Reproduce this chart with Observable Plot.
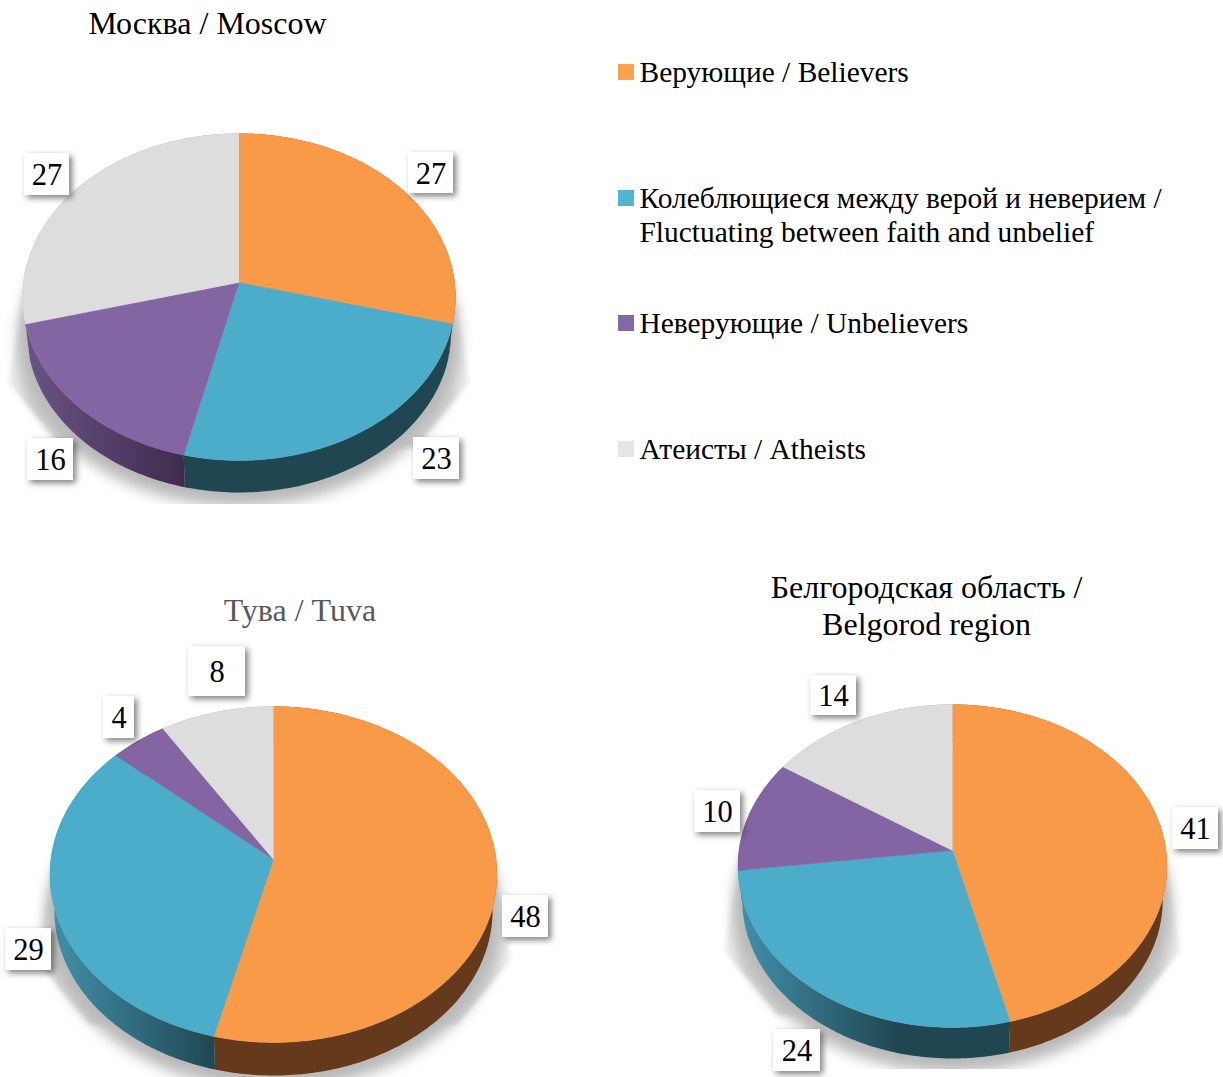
<!DOCTYPE html>
<html><head><meta charset="utf-8">
<script src="https://cdn.jsdelivr.net/npm/d3@7"></script>
<script src="https://cdn.jsdelivr.net/npm/@observablehq/plot@0.6"></script>
<style>html,body{margin:0;padding:0;background:#fff}svg{display:block}</style>
</head><body><div id="chart"></div>
<script>
const categories = ["Верующие / Believers", "Колеблющиеся между верой и неверием /\nFluctuating between faith and unbelief", "Неверующие / Unbelievers", "Атеисты / Atheists"];
const moscowValues = [27, 23, 16, 27];
const tuvaValues = [48, 29, 4, 8];
const belgorodValues = [41, 24, 10, 14];

const FONT = "Liberation Serif";
const faceColors = ["#F99A49", "#4BADC9", "#8465A4", "#DDDDDD"];
const legendColors = ["#FFA24F", "#50B5D2", "#8667A8", "#E6E6E6"];
const wallLight = ["#653A1C", "#4291AA", "#6A5488", "#AAAAAA"];
const wallDark = ["#653A1C", "#1F4651", "#3F2C4D", "#888888"];

const pies = [
  {id: "m", values: moscowValues, cx: 238.5, cy: 282, top: 149, bottom: 178, half: 216.5, depth: 32, cut: 504,
   boxes: [[408,152,453,193],[413,437,459,479],[27,438,73,480],[24,153,69,195]]},
  {id: "t", values: tuvaValues, cx: 273, cy: 859, top: 153, bottom: 183, half: 223.5, depth: 33, cut: 1090,
   boxes: [[502,895,548,937],[5,928,51,970],[103,696,134,738],[188,646,245,696]]},
  {id: "b", values: belgorodValues, cx: 952, cy: 850, top: 146, bottom: 177, half: 214.5, depth: 31, cut: 1069,
   boxes: [[1172,807,1218,849],[773,1029,820,1071],[694,790,740,832],[810,675,856,715]]}
];
const WALL_SCALE = 0.98;

// Perspective projection of a point on the unit circle of the pie (angle clockwise from top).
function project(p, deg, scale = 1, dy = 0) {
  const k = (p.bottom - p.top) / (p.bottom + p.top);
  const A = p.top * (1 + k);
  const B = p.half * Math.sqrt(1 - k * k);
  const t = deg * Math.PI / 180;
  const X = Math.sin(t) * scale, Y = Math.cos(t) * scale;
  const w = 1 + k * Math.cos(t);
  return {x: p.cx + B * X / w, y: p.cy - A * Y / w + dy};
}
function arc(p, a0, a1, scale, dy) {
  const n = Math.max(2, Math.ceil(Math.abs(a1 - a0)));
  return d3.range(n + 1).map(i => project(p, a0 + (a1 - a0) * i / n, scale, dy));
}

const marks = [];

// gradient definitions for the lit walls
marks.push(() => {
  const ns = "http://www.w3.org/2000/svg";
  const defs = document.createElementNS(ns, "defs");
  const grad = (id, attrs, stops) => {
    const g = document.createElementNS(ns, "linearGradient");
    g.setAttribute("id", id);
    g.setAttribute("gradientUnits", "userSpaceOnUse");
    for (const [a, v] of Object.entries(attrs)) g.setAttribute(a, v);
    for (const [o, c] of stops) {
      const s = document.createElementNS(ns, "stop");
      s.setAttribute("offset", o); s.setAttribute("stop-color", c);
      g.appendChild(s);
    }
    defs.appendChild(g);
  };
  for (const p of pies) {
    faceColors.forEach((_, i) => grad(`wall-${p.id}-${i}`,
      {x1: p.cx - p.half, x2: p.cx - p.half * 0.25, y1: 0, y2: 0},
      [[0, wallLight[i]], [1, wallDark[i]]]));
    const L = p.cx - p.half;
    grad(`fade-${p.id}`, {x1: L - 16, x2: L + 2 * p.half + 16, y1: 0, y2: 0},
      [[0, "#f4f4f4"], [0.05, "#d6d6d6"], [0.95, "#d6d6d6"], [1, "#f4f4f4"]]);
  }
  return defs;
});

for (const p of pies) {
  const total = d3.sum(p.values);
  const L = p.cx - p.half, R = p.cx + p.half;
  // shadow: straight flanks that melt into a blurred disc under the pie
  marks.push(Plot.line([
    {x: L + 2, y: p.cy + 10}, {x: L - 14, y: p.cy + 100}, {x: L + 40, y: p.cy + 165},
    {x: R - 40, y: p.cy + 165}, {x: R + 14, y: p.cy + 100}, {x: R - 2, y: p.cy + 10}
  ], {x: "x", y: "y", fill: `url(#fade-${p.id})`, stroke: "none", imageFilter: "blur(2px)"}));
  marks.push(Plot.line(arc(p, 0, 360, 1.02, p.depth + 10), {
    x: "x", y: "y", fill: "#b8b8b8", stroke: "none", imageFilter: "blur(7px)"
  }));
  marks.push(Plot.rect([{x1: L - 40, x2: R + 40, y1: p.cut, y2: p.cut + 25}], {
    x1: "x1", x2: "x2", y1: "y1", y2: "y2", fill: "#fff"
  }));
  // walls
  let a = 0;
  const spans = p.values.map(v => { const s = [a, a + v / total * 360]; a = s[1]; return s; });
  spans.forEach(([a0, a1], i) => {
    const pts = [...arc(p, a0, a1, 1, 0), ...arc(p, a1, a0, WALL_SCALE, p.depth + p.bottom * (1 - WALL_SCALE))];
    marks.push(Plot.line(pts, {x: "x", y: "y", fill: `url(#wall-${p.id}-${i})`, stroke: "none"}));
  });
  // top face
  spans.forEach(([a0, a1], i) => {
    const pts = [{x: p.cx, y: p.cy}, ...arc(p, a0, a1, 1, 0)];
    marks.push(Plot.line(pts, {x: "x", y: "y", fill: faceColors[i], stroke: faceColors[i], strokeWidth: 0.4}));
  });
  // value labels
  const labels = p.values.map((v, i) => ({v: String(v), x1: p.boxes[i][0], y1: p.boxes[i][1], x2: p.boxes[i][2], y2: p.boxes[i][3]}));
  marks.push(Plot.rect(labels, {x1: "x1", x2: "x2", y1: "y1", y2: "y2", fill: "#fff",
    imageFilter: "drop-shadow(3px 3px 3px rgba(0,0,0,0.5))"}));
  marks.push(Plot.text(labels, {x: d => (d.x1 + d.x2) / 2, y: d => (d.y1 + d.y2) / 2 + 1, text: "v",
    fontFamily: FONT, fontSize: 30.5, fill: "#000", lineAnchor: "middle"}));
}

// chart titles
const titles = [
  {t: "Москва / Moscow", x: 207, y: 23, c: "#000"},
  {t: "Тува / Tuva", x: 299.5, y: 610, c: "#595959"},
  {t: "Белгородская область /", x: 926, y: 587, c: "#000"},
  {t: "Belgorod region", x: 926, y: 624, c: "#000"}
];
marks.push(Plot.text(titles, {x: "x", y: "y", text: "t", fill: "c", fontFamily: FONT, fontSize: 32, lineAnchor: "middle"}));

// legend
const legendRows = [72, 198, 323, 449];
const legendData = categories.map((c, i) => ({c, y: legendRows[i], color: legendColors[i]}));
marks.push(Plot.rect(legendData, {x1: () => 618, x2: () => 634, y1: d => d.y - 8, y2: d => d.y + 8, fill: "color"}));
const legendText = legendData.flatMap(d => d.c.split("\n").map((t, j) => ({t, y: d.y + j * 34})));
marks.push(Plot.text(legendText, {x: () => 639, y: "y", text: "t", textAnchor: "start", fill: "#000",
  fontFamily: FONT, fontSize: 29.45, lineAnchor: "middle"}));

const chart = Plot.plot({
  width: 1223, height: 1077, margin: 0,
  x: {domain: [0, 1223], range: [0, 1223], axis: null},
  y: {domain: [0, 1077], range: [0, 1077], axis: null},
  color: {type: "identity"},
  style: {background: "#fff"},
  marks
});
document.getElementById("chart").appendChild(chart);
</script></body></html>
